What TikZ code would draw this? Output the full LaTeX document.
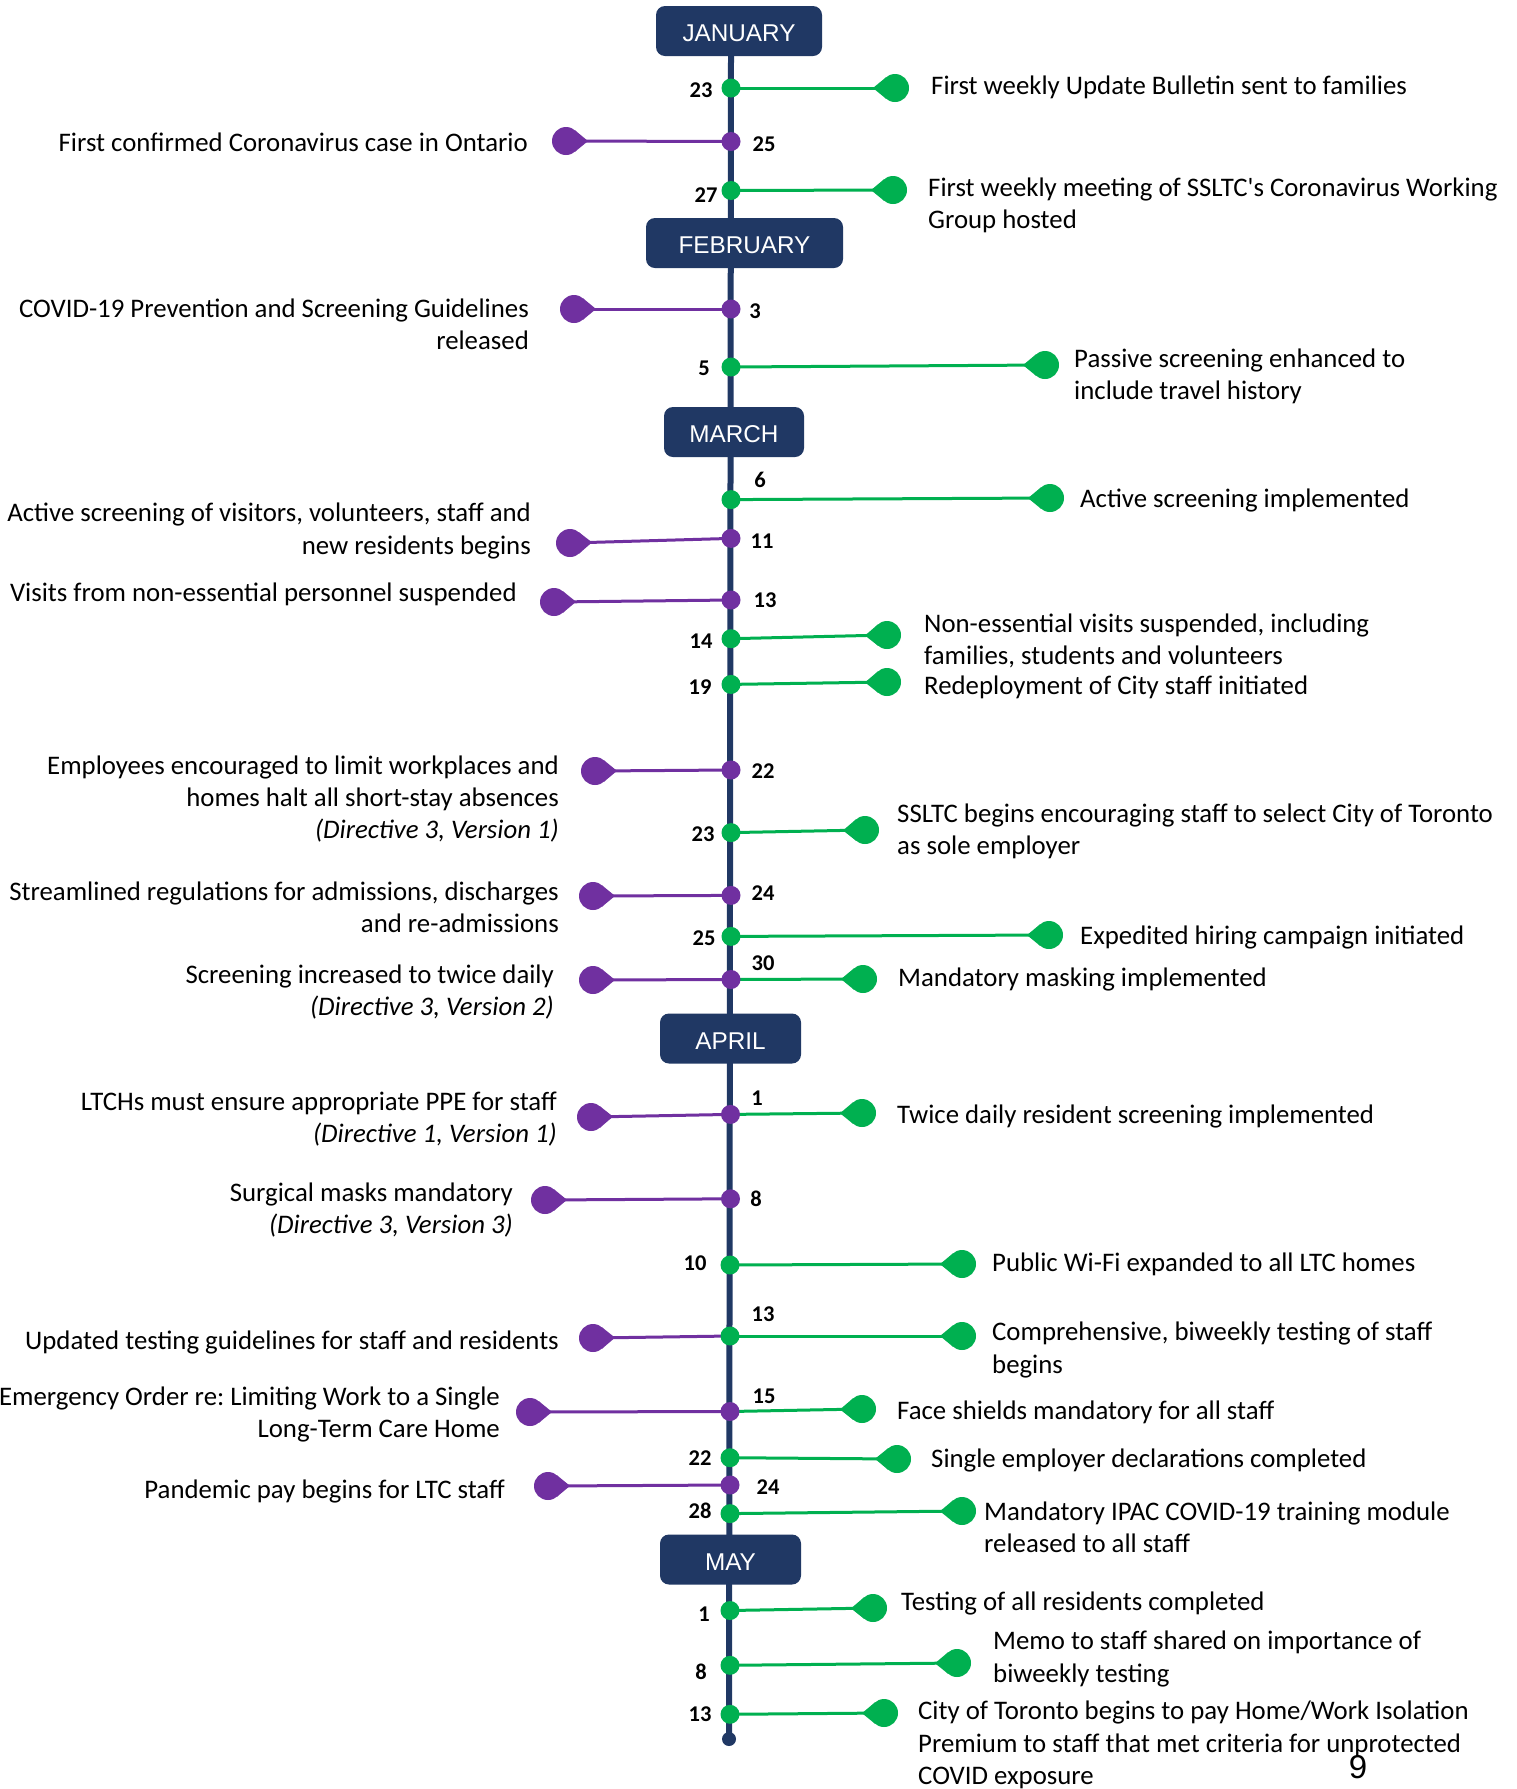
\documentclass[tikz,border=0pt]{standalone}
\usepackage{fontspec}
\setmainfont{Carlito}
\newfontfamily\arialf{Liberation Sans}
\usetikzlibrary{calc,backgrounds}
\definecolor{navy}{HTML}{203864}
\definecolor{grn}{HTML}{00B050}
\definecolor{purp}{HTML}{7030A0}
\frenchspacing
\tikzset{
  month/.style={fill=navy, rounded corners=9, text=white, inner sep=0, minimum height=50,
    text height=21.5, text depth=0, font=\arialf\fontsize{24.3}{28}\selectfont},
  gdot/.style={circle, fill=grn, inner sep=0, minimum size=19},
  pdot/.style={circle, fill=purp, inner sep=0, minimum size=19},
  enddot/.style={circle, fill=navy, inner sep=0, minimum size=14},
  ghead/.style={circle, fill=grn, inner sep=0, minimum size=28},
  phead/.style={circle, fill=purp, inner sep=0, minimum size=28},
  gline/.style={draw=grn, line width=3},
  pline/.style={draw=purp, line width=3},
  axisline/.style={draw=navy, line width=6},
  datelbl/.style={inner sep=0, font=\bfseries\fontsize{22.5}{27}\selectfont},
  rtext/.style={anchor=west, align=left, inner sep=0, yshift=-3pt, font=\frenchspacing\fontsize{26.8}{32.3}\selectfont},
  ltext/.style={anchor=east, align=right, inner sep=0, yshift=-3pt, font=\frenchspacing\fontsize{26.8}{32.3}\selectfont},
  pagenum/.style={inner sep=0, font=\arialf\fontsize{33}{36}\selectfont}
}
\newcommand\tailfill[3]{%
  \fill[#1] ($(#2.center)!22pt!(#3.center)$) -- ($(#2.center)!14pt!50:(#3.center)$) -- (#2.center)
    -- ($(#2.center)!14pt!-50:(#3.center)$) -- cycle;}
\begin{document}
\begin{tikzpicture}[x=1pt,y=-1pt]
\useasboundingbox (0,0) rectangle (1517,1789);
\begin{pgfonlayer}{background}
\fill[white] (0,0) rectangle (1517,1789);
\end{pgfonlayer}
% months
\node[month, minimum width=166] (jan) at (739,31) {JANUARY};
\node[month, minimum width=197] (feb) at (744.5,243) {FEBRUARY};
\node[month, minimum width=140] (mar) at (734,432) {MARCH};
\node[month, minimum width=141] (apr) at (730.5,1038.5) {APRIL};
\node[month, minimum width=141] (may) at (730.5,1559.5) {MAY};
\coordinate (axtop) at (731,56);
\node[enddot] (axend) at (729,1739) {};

% January
\node[gdot] (d1) at (731,88) {};
\node[ghead] (h1) at (895,88) {};
\node[datelbl] (n1) at (701,90) {23};
\node[rtext] (t1) at (931,84) {First weekly Update Bulletin sent to families};

\node[pdot] (d2) at (731,141.5) {};
\node[phead] (h2) at (566,141) {};
\node[datelbl] (n2) at (764,144) {25};
\node[ltext] (t2) at (528,139) {First confirmed Coronavirus case in Ontario};

\node[gdot] (d3) at (731,190.5) {};
\node[ghead] (h3) at (893,190) {};
\node[datelbl] (n3) at (706,195) {27};
\node[rtext] (t3) at (928,202) {First weekly meeting of SSLTC\textquotesingle s Coronavirus Working\\Group hosted};

% February
\node[pdot] (d4) at (731,309) {};
\node[phead] (h4) at (574,309) {};
\node[datelbl] (n4) at (755,311) {3};
\node[ltext] (t4) at (529,321) {COVID-19 Prevention and Screening Guidelines\\released};

\node[gdot] (d5) at (731,367) {};
\node[ghead] (h5) at (1045,365) {};
\node[datelbl] (n5) at (704,368) {5};
\node[rtext] (t5) at (1074,373) {Passive screening enhanced to\\include travel history};

% March
\node[gdot] (d6) at (731,499.6) {};
\node[ghead] (h6) at (1050,498) {};
\node[datelbl] (n6) at (760,480) {6};
\node[rtext] (t6) at (1080,497) {Active screening implemented};

\node[pdot] (d7) at (731,538.4) {};
\node[phead] (h7) at (570,543) {};
\node[datelbl] (n7) at (762,541) {11};
\node[ltext] (t7) at (531,528) {Active screening of visitors, volunteers, staff and\\new residents begins};

\node[pdot] (d8) at (731,600) {};
\node[phead] (h8) at (554,602) {};
\node[datelbl] (n8) at (765,600) {13};
\node[ltext] (t8) at (517,591) {Visits from non-essential personnel suspended};

\node[gdot] (d9) at (731,638.7) {};
\node[ghead] (h9) at (887,635) {};
\node[datelbl] (n9) at (701,641) {14};
\node[rtext] (t9) at (924,638) {Non-essential visits suspended, including\\families, students and volunteers};

\node[gdot] (d10) at (731,684.4) {};
\node[ghead] (h10) at (887,682) {};
\node[datelbl] (n10) at (700,687) {19};
\node[rtext] (t10) at (924,684) {Redeployment of City staff initiated};

\node[pdot] (d11) at (731,770) {};
\node[phead] (h11) at (595,771) {};
\node[datelbl] (n11) at (763,771) {22};
\node[ltext] (t11) at (559,796) {Employees encouraged to limit workplaces and\\homes halt all short-stay absences\\\textit{(Directive 3, Version 1)}};

\node[gdot] (d12) at (731,832.6) {};
\node[ghead] (h12) at (865,830) {};
\node[datelbl] (n12) at (703,834) {23};
\node[rtext] (t12) at (897,828) {SSLTC begins encouraging staff to select City of Toronto\\as sole employer};

\node[pdot] (d13) at (731,895.4) {};
\node[phead] (h13) at (593,896) {};
\node[datelbl] (n13) at (763,893) {24};
\node[ltext] (t13) at (559,904.5) {Streamlined regulations for admissions, discharges\\and re-admissions};

\node[gdot] (d14) at (731,936.4) {};
\node[ghead] (h14) at (1049,935) {};
\node[datelbl] (n14) at (704,938) {25};
\node[rtext] (t14) at (1080,934) {Expedited hiring campaign initiated};

\node[pdot] (d15) at (731,979.5) {};
\node[phead] (h15) at (593,980) {};
\node[ghead] (h15r) at (863,979) {};
\node[datelbl] (n15) at (763,963) {30};
\node[ltext] (t15) at (554,989) {Screening increased to twice daily\\\textit{(Directive 3, Version 2)}};
\node[rtext] (t15r) at (898,976) {Mandatory masking implemented};

% April
\node[pdot] (d16) at (730.5,1114.4) {};
\node[phead] (h16) at (591,1117) {};
\node[ghead] (h16r) at (862,1113) {};
\node[datelbl] (n16) at (757,1098) {1};
\node[ltext] (t16) at (557,1116) {LTCHs must ensure appropriate PPE for staff\\\textit{(Directive 1, Version 1)}};
\node[rtext] (t16r) at (897,1113) {Twice daily resident screening implemented};

\node[pdot] (d17) at (730.5,1198.8) {};
\node[phead] (h17) at (545,1200) {};
\node[datelbl] (n17) at (756,1199) {8};
\node[ltext] (t17) at (513,1207) {Surgical masks mandatory\\\textit{(Directive 3, Version 3)}};

\node[gdot] (d18) at (730,1265) {};
\node[ghead] (h18) at (962,1264) {};
\node[datelbl] (n18) at (695,1263) {10};
\node[rtext] (t18) at (992,1261) {Public Wi-Fi expanded to all LTC homes};

\node[gdot] (d19) at (730,1336) {};
\node[phead] (h19) at (593,1338) {};
\node[ghead] (h19r) at (962,1336) {};
\node[datelbl] (n19) at (763,1314) {13};
\node[ltext] (t19) at (559,1339) {Updated testing guidelines for staff and residents};
\node[rtext] (t19r) at (992,1347) {Comprehensive, biweekly testing of staff\\begins};

\node[pdot] (d20) at (730,1411.5) {};
\node[phead] (h20) at (530,1412) {};
\node[ghead] (h20r) at (862,1409) {};
\node[datelbl] (n20) at (764,1396) {15};
\node[ltext] (t20) at (500,1411.5) {Emergency Order re: Limiting Work to a Single\\Long-Term Care Home};
\node[rtext] (t20r) at (897,1409) {Face shields mandatory for all staff};

\node[gdot] (d21) at (730,1457.7) {};
\node[ghead] (h21) at (897,1459) {};
\node[datelbl] (n21) at (700,1458) {22};
\node[rtext] (t21) at (931,1457) {Single employer declarations completed};

\node[pdot] (d22) at (730,1485) {};
\node[phead] (h22) at (548,1486) {};
\node[datelbl] (n22) at (768,1487) {24};
\node[ltext] (t22) at (505,1488) {Pandemic pay begins for LTC staff};

\node[gdot] (d23) at (730,1513.6) {};
\node[ghead] (h23) at (962,1511) {};
\node[datelbl] (n23) at (700,1511) {28};
\node[rtext] (t23) at (984,1524) {Mandatory IPAC COVID-19 training module\\released to all staff};

% May
\node[gdot] (d24) at (730,1610.5) {};
\node[ghead] (h24) at (873,1608) {};
\node[datelbl] (n24) at (704,1614) {1};
\node[rtext] (t24) at (901,1600) {Testing of all residents completed};

\node[gdot] (d25) at (730,1665.3) {};
\node[ghead] (h25) at (957,1663) {};
\node[datelbl] (n25) at (701,1672) {8};
\node[rtext] (t25) at (993,1656) {Memo to staff shared on importance of\\biweekly testing};

\node[gdot] (d26) at (730,1714.3) {};
\node[ghead] (h26) at (884,1713) {};
\node[datelbl] (n26) at (700,1714) {13};
\node[rtext] (t26) at (918,1742) {City of Toronto begins to pay Home/Work Isolation\\Premium to staff that met criteria for unprotected\\COVID exposure};

\node[pagenum] (pg) at (1358,1767) {9};

% tails
\foreach \h/\d in {h1/d1,h3/d3,h5/d5,h6/d6,h9/d9,h10/d10,h12/d12,h14/d14,h15r/d15,h16r/d16,h18/d18,h19r/d19,h20r/d20,h21/d21,h23/d23,h24/d24,h25/d25,h26/d26}
  {\tailfill{grn}{\h}{\d}}
\foreach \h/\d in {h2/d2,h4/d4,h7/d7,h8/d8,h11/d11,h13/d13,h15/d15,h16/d16,h17/d17,h19/d19,h20/d20,h22/d22}
  {\tailfill{purp}{\h}{\d}}

\begin{pgfonlayer}{background}
\draw[axisline] (axtop) -- (axend.center);
\foreach \h/\d in {h1/d1,h3/d3,h5/d5,h6/d6,h9/d9,h10/d10,h12/d12,h14/d14,h15r/d15,h16r/d16,h18/d18,h19r/d19,h20r/d20,h21/d21,h23/d23,h24/d24,h25/d25,h26/d26}
  {\draw[gline] (\d.center) -- (\h.center);}
\foreach \h/\d in {h2/d2,h4/d4,h7/d7,h8/d8,h11/d11,h13/d13,h15/d15,h16/d16,h17/d17,h19/d19,h20/d20,h22/d22}
  {\draw[pline] (\d.center) -- (\h.center);}
\end{pgfonlayer}
\end{tikzpicture}
\end{document}
